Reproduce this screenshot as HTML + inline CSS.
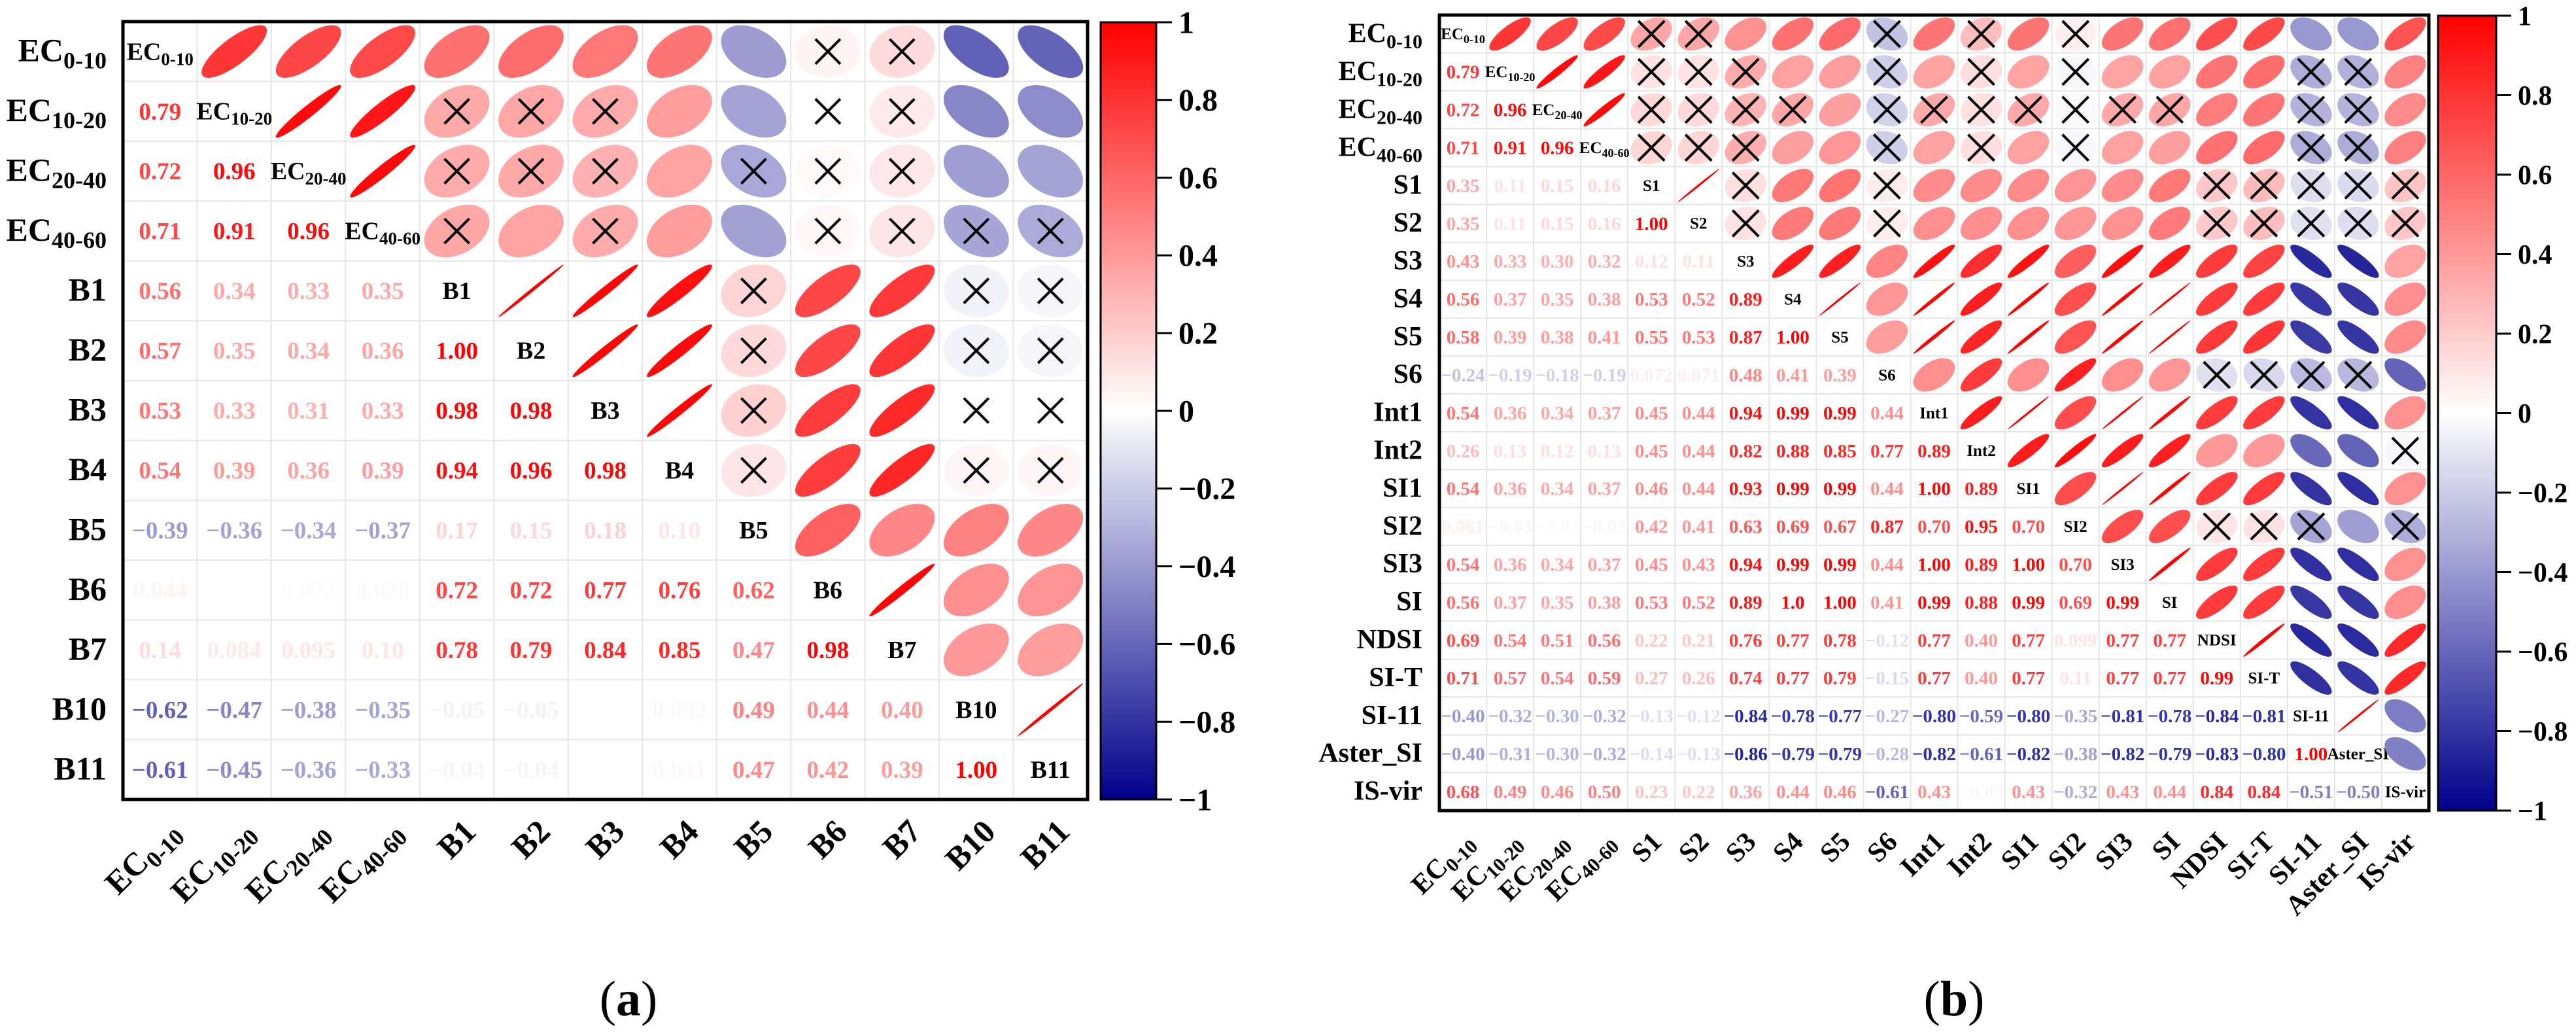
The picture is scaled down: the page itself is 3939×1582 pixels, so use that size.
<!DOCTYPE html>
<html><head><meta charset="utf-8"><title>Correlation matrices</title>
<style>html,body{margin:0;padding:0;background:#fff;}svg{display:block;font-family:"Liberation Serif","DejaVu Serif",serif;}</style>
</head><body>
<svg id="root" width="3939" height="1582" viewBox="0 0 3939 1582" xmlns="http://www.w3.org/2000/svg" font-family="'Liberation Serif', serif"></svg>
<script>
// ---------- Panel (a) data ----------
const varsA = ["EC|0-10","EC|10-20","EC|20-40","EC|40-60","B1","B2","B3","B4","B5","B6","B7","B10","B11"];
const lowerA = [
 [],
 ["0.79"],
 ["0.72","0.96"],
 ["0.71","0.91","0.96"],
 ["0.56","0.34","0.33","0.35"],
 ["0.57","0.35","0.34","0.36","1.00"],
 ["0.53","0.33","0.31","0.33","0.98","0.98"],
 ["0.54","0.39","0.36","0.39","0.94","0.96","0.98"],
 ["-0.39","-0.36","-0.34","-0.37","0.17","0.15","0.18","0.10"],
 ["0.044","0.005","0.023","0.028","0.72","0.72","0.77","0.76","0.62"],
 ["0.14","0.084","0.095","0.10","0.78","0.79","0.84","0.85","0.47","0.98"],
 ["-0.62","-0.47","-0.38","-0.35","-0.05","-0.05","-0.005","0.032","0.49","0.44","0.40"],
 ["-0.61","-0.45","-0.36","-0.33","-0.04","-0.04","-0.005","0.031","0.47","0.42","0.39","1.00"]
];
const insigA = [[0,9],[0,10],[1,4],[1,5],[1,6],[1,9],[1,10],[2,4],[2,5],[2,6],[2,8],[2,9],[2,10],
 [3,4],[3,6],[3,9],[3,10],[3,11],[3,12],[4,8],[4,11],[4,12],[5,8],[5,11],[5,12],[6,8],[6,11],[6,12],[7,8],[7,11],[7,12]];

// ---------- Panel (b) data ----------
const varsB = ["EC|0-10","EC|10-20","EC|20-40","EC|40-60","S1","S2","S3","S4","S5","S6","Int1","Int2","SI1","SI2","SI3","SI","NDSI","SI-T","SI-11","Aster_SI","IS-vir"];
const lowerB = [
 [],
 ["0.79"],
 ["0.72","0.96"],
 ["0.71","0.91","0.96"],
 ["0.35","0.11","0.15","0.16"],
 ["0.35","0.11","0.15","0.16","1.00"],
 ["0.43","0.33","0.30","0.32","0.12","0.11"],
 ["0.56","0.37","0.35","0.38","0.53","0.52","0.89"],
 ["0.58","0.39","0.38","0.41","0.55","0.53","0.87","1.00"],
 ["-0.24","-0.19","-0.18","-0.19","0.072","0.071","0.48","0.41","0.39"],
 ["0.54","0.36","0.34","0.37","0.45","0.44","0.94","0.99","0.99","0.44"],
 ["0.26","0.13","0.12","0.13","0.45","0.44","0.82","0.88","0.85","0.77","0.89"],
 ["0.54","0.36","0.34","0.37","0.46","0.44","0.93","0.99","0.99","0.44","1.00","0.89"],
 ["0.061","-0.03","-0.02","-0.03","0.42","0.41","0.63","0.69","0.67","0.87","0.70","0.95","0.70"],
 ["0.54","0.36","0.34","0.37","0.45","0.43","0.94","0.99","0.99","0.44","1.00","0.89","1.00","0.70"],
 ["0.56","0.37","0.35","0.38","0.53","0.52","0.89","1.0","1.00","0.41","0.99","0.88","0.99","0.69","0.99"],
 ["0.69","0.54","0.51","0.56","0.22","0.21","0.76","0.77","0.78","-0.12","0.77","0.40","0.77","0.099","0.77","0.77"],
 ["0.71","0.57","0.54","0.59","0.27","0.26","0.74","0.77","0.79","-0.15","0.77","0.40","0.77","0.11","0.77","0.77","0.99"],
 ["-0.40","-0.32","-0.30","-0.32","-0.13","-0.12","-0.84","-0.78","-0.77","-0.27","-0.80","-0.59","-0.80","-0.35","-0.81","-0.78","-0.84","-0.81"],
 ["-0.40","-0.31","-0.30","-0.32","-0.14","-0.13","-0.86","-0.79","-0.79","-0.28","-0.82","-0.61","-0.82","-0.38","-0.82","-0.79","-0.83","-0.80","1.00"],
 ["0.68","0.49","0.46","0.50","0.23","0.22","0.36","0.44","0.46","-0.61","0.43","-0.03","0.43","-0.32","0.43","0.44","0.84","0.84","-0.51","-0.50"]
];
const insigB = [[0,4],[0,5],[0,9],[0,11],[0,13],
 [1,4],[1,5],[1,6],[1,9],[1,11],[1,13],[1,18],[1,19],
 [2,4],[2,5],[2,6],[2,7],[2,9],[2,10],[2,11],[2,12],[2,13],[2,14],[2,15],[2,18],[2,19],
 [3,4],[3,5],[3,6],[3,9],[3,11],[3,13],[3,18],[3,19],
 [4,6],[4,9],[4,16],[4,17],[4,18],[4,19],[4,20],
 [5,6],[5,9],[5,16],[5,17],[5,18],[5,19],[5,20],
 [9,16],[9,17],[9,18],[9,19],[11,20],[13,16],[13,17],[13,18],[13,20]];

const cbTicks = [1,0.8,0.6,0.4,0.2,0,-0.2,-0.4,-0.6,-0.8,-1];

// ---------- helpers ----------
const NS = "http://www.w3.org/2000/svg";
const root = document.getElementById("root");
function mk(tag, attrs, parent){
  const e = document.createElementNS(NS, tag);
  for (const k in attrs) e.setAttribute(k, attrs[k]);
  (parent||root).appendChild(e);
  return e;
}
function colorOf(r){
  r = Math.max(-1, Math.min(1, r));
  let c;
  if (r >= 0) c = [255, 255*(1-r), 255*(1-r)];
  else { const t = -r; c = [255*(1-t), 255*(1-t), 255-(255-139)*t]; }
  return "rgb(" + c.map(v=>Math.round(v)).join(",") + ")";
}
function fmt(s){ return s.replace("-", "\u2212"); }
function addLabel(parent, txt, x, y, size, anchor, subScale){
  const parts = txt.split("|");
  const t = mk("text", {x:x, y:y, "font-size":size, "font-weight":"bold", "text-anchor":anchor, fill:"#000"}, parent);
  const a = mk("tspan", {}, t); a.textContent = parts[0];
  if (parts[1]) {
    const b = mk("tspan", {"font-size": Math.round(size*subScale), dy: Math.round(size*0.22)}, t);
    b.textContent = parts[1];
  }
  return t;
}

function panel(cfg){
  const n = cfg.vars.length;
  const g = mk("g", {});
  
  
  const cw = (cfg.x1-cfg.x0)/n, ch = (cfg.y1-cfg.y0)/n;
  const xs = i => cfg.x0 + (i+0.5)*cw;
  const ys = i => cfg.y0 + (i+0.5)*ch;
  const val = (i,j) => i===j ? 1 : (i>j ? parseFloat(cfg.lower[i][j]) : parseFloat(cfg.lower[j][i]));
  const insig = new Set(cfg.insig.map(p=>p[0]+"_"+p[1]));
  mk("rect", {x:cfg.x0, y:cfg.y0, width:cfg.x1-cfg.x0, height:cfg.y1-cfg.y0, fill:"#fff"}, g);
  const grid = mk("g", {stroke:"#e6e6e6", "stroke-width":2}, g);
  
  
  for (let i=1;i<n;i++){
    mk("line", {x1:cfg.x0+i*cw, x2:cfg.x0+i*cw, y1:cfg.y0, y2:cfg.y1}, grid);
    mk("line", {y1:cfg.y0+i*ch, y2:cfg.y0+i*ch, x1:cfg.x0, x2:cfg.x1}, grid);
  }
  for (let i=0;i<n;i++){
    for (let j=0;j<n;j++){
      if (i===j){
        const t = addLabel(g, cfg.vars[i], xs(j), ys(i)+cfg.diagSize*0.33, cfg.diagSize, "middle", 0.7);
        
        
      } else if (i>j){
        const s = cfg.lower[i][j], r = parseFloat(s);
        const t = mk("text", {x:xs(j), y:ys(i)+cfg.numSize*0.34, "font-size":cfg.numSize, "font-weight":"bold", "text-anchor":"middle", fill:colorOf(r)}, g);
        t.textContent = fmt(s);
        
        
      } else {
        const r = val(i,j), ar = Math.abs(r), k = 0.44;
        const rx = k*Math.sqrt(1+ar), ry = Math.max(0.025, k*Math.sqrt(Math.max(0,1-ar)));
        const eg = mk("g", {transform:"translate("+xs(j)+","+ys(i)+") scale("+cw+","+ch+") rotate("+(r>=0?-45:45)+")"}, g);
        const e = mk("ellipse", {cx:0, cy:0, rx:rx, ry:ry, fill:colorOf(r)}, eg);
        
        
        if (insig.has(i+"_"+j)){
          const h = cfg.xHalf, cx = xs(j), cy = ys(i);
          const xg = mk("g", {stroke:"#000", "stroke-width":cfg.xStroke}, g);
          
          
          mk("line", {x1:cx-h, y1:cy-h, x2:cx+h, y2:cy+h}, xg);
          mk("line", {x1:cx-h, y1:cy+h, x2:cx+h, y2:cy-h}, xg);
        }
      }
    }
  }
  mk("rect", {x:cfg.x0, y:cfg.y0, width:cfg.x1-cfg.x0, height:cfg.y1-cfg.y0, fill:"none", stroke:"#000", "stroke-width":cfg.border}, g);
  for (let i=0;i<n;i++){
    const t = addLabel(g, cfg.vars[i], cfg.rowLabelX, ys(i)+cfg.axSize*0.3, cfg.axSize, "end", 0.72);
    
    
  }
  for (let j=0;j<n;j++){
    const px = xs(j)+cfg.colDx, py = cfg.y1+cfg.colDy;
    const t = addLabel(g, cfg.vars[j], px, py, cfg.axSize, "end", 0.72);
    t.setAttribute("transform", "rotate(-45 "+px+" "+py+")");
    
    
  }
  const gid = "grad_"+cfg.name;
  const defs = mk("defs", {}, g);
  const lg = mk("linearGradient", {id:gid, x1:0, y1:0, x2:0, y2:1}, defs);
  for (let s=0;s<=20;s++){
    const r = 1 - s/10;
    mk("stop", {offset:(s/20), "stop-color":colorOf(r)}, lg);
  }
  const cb = mk("g", {}, g);
  
  
  mk("rect", {x:cfg.cbx0, y:cfg.y0+1, width:cfg.cbx1-cfg.cbx0, height:cfg.y1-cfg.y0-1, fill:"url(#"+gid+")", stroke:"#000", "stroke-width":3}, cb);
  const cy = v => cfg.y0+1 + (1-v)/2*(cfg.y1-cfg.y0-1);
  cbTicks.forEach(v=>{
    mk("line", {x1:cfg.cbx1, x2:cfg.cbx1+cfg.tickLen, y1:cy(v), y2:cy(v), stroke:"#000", "stroke-width":3}, cb);
    const t = mk("text", {x:cfg.cbx1+cfg.tickLen+10, y:cy(v)+cfg.cbSize*0.34, "font-size":cfg.cbSize, "font-weight":"bold", fill:"#000"}, cb);
    t.textContent = fmt(String(v));
    
    
  });
  const cap = mk("text", {x:cfg.capX, y:1552, "font-size":76, "text-anchor":"middle", fill:"#000"}, g);
  const c1 = mk("tspan", {}, cap); c1.textContent = "(";
  const c2 = mk("tspan", {"font-weight":"bold"}, cap); c2.textContent = cfg.cap;
  const c3 = mk("tspan", {}, cap); c3.textContent = ")";
  
  
}

panel({name:"panel-a", vars:varsA, lower:lowerA, insig:insigA, x0:188, x1:1663, y0:33, y1:1222,
  numSize:37, diagSize:38, axSize:50, rowLabelX:163, colDx:32, colDy:52, xHalf:19, xStroke:4, border:5,
  cbx0:1683, cbx1:1768, tickLen:24, cbSize:48, capX:961, cap:"a"});
panel({name:"panel-b", vars:varsB, lower:lowerB, insig:insigB, x0:2201, x1:3714, y0:23, y1:1239,
  numSize:29, diagSize:25, axSize:42, rowLabelX:2175, colDx:18, colDy:50, xHalf:20, xStroke:4, border:5,
  cbx0:3728, cbx1:3817, tickLen:23, cbSize:42, capX:2988, cap:"b"});
</script>
</body></html>
